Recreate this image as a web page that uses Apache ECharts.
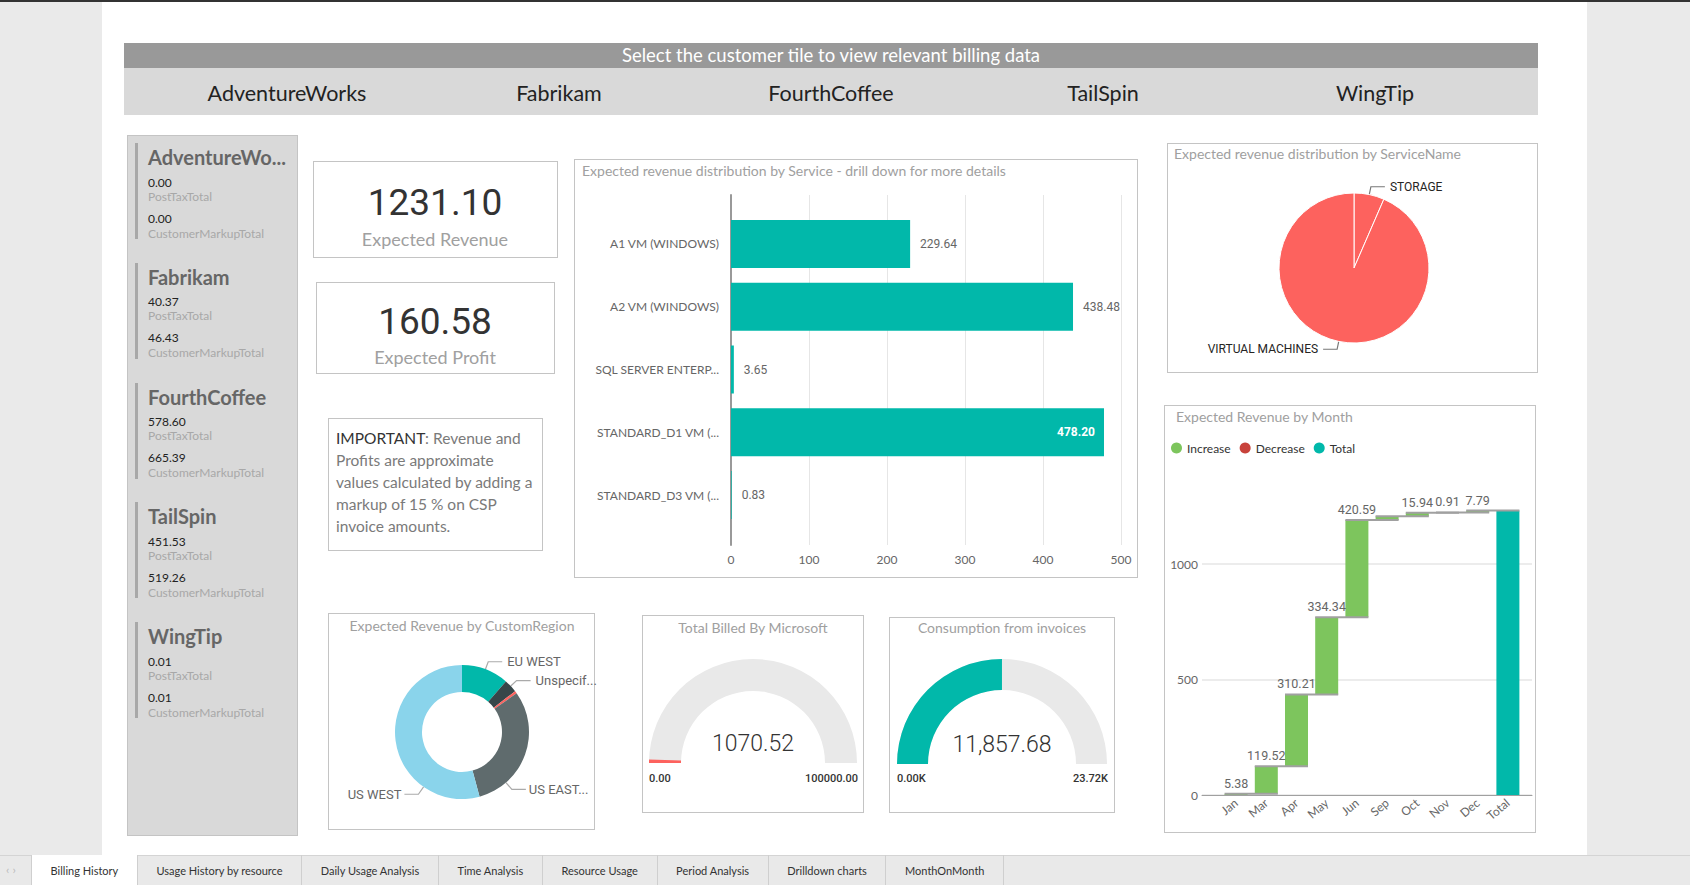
<!DOCTYPE html>
<html><head><meta charset="utf-8">
<script src="https://cdn.jsdelivr.net/npm/echarts@6/dist/echarts.min.js"></script>
<style>
html,body{margin:0;padding:0;width:1690px;height:885px;overflow:hidden;background:#eaeaea;font-family:Lato,'Noto Sans',sans-serif;}
.a{position:absolute;box-sizing:border-box;}
.t{position:absolute;white-space:nowrap;}
.box{position:absolute;box-sizing:border-box;border:1px solid #c4c4c4;background:#fff;}
#chart{position:absolute;left:0;top:0;width:1690px;height:885px;}
</style>
</head><body>
<div class="a" style="left:0;top:0;width:1690px;height:2px;background:#333"></div>
<div class="a" style="left:102px;top:2px;width:1485px;height:853px;background:#fff"></div>
<div id="ui"></div>
<div id="chart"></div>
<div id="ui2"></div>
<script>
// ---------- DATA ----------
const headerText = 'Select the customer tile to view relevant billing data';
const customers = ['AdventureWorks', 'Fabrikam', 'FourthCoffee', 'TailSpin', 'WingTip'];
const cardTitles = ['AdventureWo...', 'Fabrikam', 'FourthCoffee', 'TailSpin', 'WingTip'];
const postTaxTotal = [0.00, 40.37, 578.60, 451.53, 0.01];
const customerMarkupTotal = [0.00, 46.43, 665.39, 519.26, 0.01];
const expectedRevenue = 1231.10;
const expectedProfit = 160.58;
const noteLines = ['Revenue and', 'Profits are approximate', 'values calculated by adding a', 'markup of 15 % on CSP', 'invoice amounts.'];
const services = ['A1 VM (WINDOWS)', 'A2 VM (WINDOWS)', 'SQL SERVER ENTERP...', 'STANDARD_D1 VM (...', 'STANDARD_D3 VM (...'];
const serviceRevenue = [229.64, 438.48, 3.65, 478.20, 0.83];
const serviceTicks = [0, 500, 100];           // min, max, interval
const serviceNames = ['STORAGE', 'VIRTUAL MACHINES'];
const serviceNameRevenue = [80.30, 1150.80];
const regions = ['EU WEST', 'Unspecif...', 'US CENTRAL', 'US EAST...', 'US WEST'];
const regionRevenue = [140.0, 39.4, 7.4, 376.7, 667.6];
const months = ['Jan', 'Mar', 'Apr', 'May', 'Jun', 'Sep', 'Oct', 'Nov', 'Dec', 'Total'];
const monthRevenue = [5.38, 119.52, 310.21, 334.34, 420.59, 16.42, 15.94, 0.91, 7.79];
const monthHiddenLabels = ['Sep'];
const monthTicks = [0, 1400, 500];            // min, max, interval
const billedByMicrosoft = 1070.52, billedMin = 0, billedMax = 100000;
const consumption = 11857.68, consumptionMin = 0, consumptionMax = 23720;
const tabs = ['Billing History', 'Usage History by resource', 'Daily Usage Analysis', 'Time Analysis', 'Resource Usage', 'Period Analysis', 'Drilldown charts', 'MonthOnMonth'];

// ---------- UI HELPERS ----------
const ui = document.getElementById('ui');
const ui2 = document.getElementById('ui2');
function rect(x, y, w, h, style, parent) {
  const d = document.createElement('div'); d.className = 'a';
  d.style.cssText = `left:${x}px;top:${y}px;width:${w}px;height:${h}px;` + (style || '');
  (parent || ui).appendChild(d); return d;
}
function txt(text, x, cy, size, color, align, extra, parent) {
  const d = document.createElement('div'); d.className = 't';
  const lh = Math.round(size * 1.4);
  let left = x, w = '';
  if (align === 'center') { left = x - 600; w = 'width:1200px;text-align:center;'; }
  if (align === 'right') { left = x - 1200; w = 'width:1200px;text-align:right;'; }
  d.style.cssText = `left:${left}px;top:${cy - lh / 2}px;line-height:${lh}px;font-size:${size}px;color:${color};${w}` + (extra || '');
  d.textContent = text; (parent || ui).appendChild(d); return d;
}
const f2 = v => v.toFixed(2);

// header
rect(124, 43, 1414, 25, 'background:#999');
txt(headerText, 831, 55, 18.5, '#fff', 'center');
rect(124, 68, 1414, 47, 'background:#d9d9d9');
customers.forEach((c, i) => txt(c, 287 + 272 * i, 93, 21.5, '#222', 'center'));

// left panel
rect(127, 135, 171, 701, 'background:#d9d9d9;border:1px solid #c4c4c4');
cardTitles.forEach((t, i) => {
  const T = 143 + 119.75 * i;
  rect(135, T, 3, 96, 'background:#a8a8a8');
  txt(t, 148, T + 14, 20, '#666', 'left', 'font-weight:700;');
  txt(f2(postTaxTotal[i]), 148, T + 39, 12, '#222', 'left');
  txt('PostTaxTotal', 148, T + 53, 12, '#a8a8a8', 'left');
  txt(f2(customerMarkupTotal[i]), 148, T + 75, 12, '#222', 'left');
  txt('CustomerMarkupTotal', 148, T + 90, 12, '#a8a8a8', 'left');
});

// KPI cards
rect(313, 161, 245, 97, '', ui).className = 'box';
txt(f2(expectedRevenue), 435, 203, 37, '#333', 'center', 'font-family:Roboto;');
txt('Expected Revenue', 435, 239, 18, '#a0a0a0', 'center');
rect(316, 282, 239, 92, '', ui).className = 'box';
txt(f2(expectedProfit), 435, 322, 37, '#333', 'center', 'font-family:Roboto;');
txt('Expected Profit', 435, 357, 18, '#a0a0a0', 'center');
rect(328, 418, 215, 133, '', ui).className = 'box';
const impWord = txt('IMPORTANT', 336, 438, 15.5, '#333', 'left');
txt(':', 336 + impWord.offsetWidth, 438, 15.5, '#7a7a7a', 'left');
noteLines.forEach((l, i) => {
  if (i === 0) txt(l, 336 + impWord.offsetWidth + 8, 438, 15.5, '#7a7a7a', 'left');
  else txt(l, 336, 438 + 22 * i, 15.5, '#7a7a7a', 'left');
});

// chart boxes
const boxes = [
  [574, 159, 564, 419], [1167, 143, 371, 230], [1164, 405, 372, 428],
  [328, 613, 267, 217], [642, 615, 222, 198], [889, 617, 226, 196]
];
boxes.forEach(b => { rect(b[0], b[1], b[2], b[3]).className = 'box'; });
txt('Expected revenue distribution by Service - drill down for more details', 582, 171, 14, '#a0a0a0', 'left');
txt('Expected revenue distribution by ServiceName', 1174, 154, 14, '#a0a0a0', 'left');
txt('Expected Revenue by Month', 1176, 417, 14, '#a0a0a0', 'left');
txt('Expected Revenue by CustomRegion', 462, 626, 14, '#a0a0a0', 'center');
txt('Total Billed By Microsoft', 753, 628, 14, '#a0a0a0', 'center');
txt('Consumption from invoices', 1002, 628, 14, '#a0a0a0', 'center');
// gauge min/max labels
txt(f2(billedMin), 649, 778, 11, '#333', 'left', 'font-family:Roboto;font-weight:500;', ui2);
txt(f2(billedMax), 858, 778, 11, '#333', 'right', 'font-family:Roboto;font-weight:500;', ui2);
txt((consumptionMin / 1000).toFixed(2) + 'K', 897, 778, 11, '#333', 'left', 'font-family:Roboto;font-weight:500;', ui2);
txt((consumptionMax / 1000).toFixed(2) + 'K', 1108, 778, 11, '#333', 'right', 'font-family:Roboto;font-weight:500;', ui2);

// tab bar
rect(0, 855, 1690, 30, 'background:#e9e9e9;border-top:1px solid #d4d4d4');
txt('\u2039 \u203A', 6, 869, 12, '#bbb', 'left');
const tabBar = document.createElement('div'); tabBar.className = 'a';
tabBar.style.cssText = 'left:31px;top:855px;height:30px;display:flex;';
tabs.forEach((t, i) => {
  const d = document.createElement('div');
  d.style.cssText = 'height:30px;line-height:32px;padding:0 18.6px;font-size:11px;color:#333;border-right:1px solid #cfcfcf;' + (i === 0 ? 'background:#fff;border-left:1px solid #cfcfcf;' : '');
  d.textContent = t; tabBar.appendChild(d);
});
ui.appendChild(tabBar);

// ---------- CHARTS ----------
const chart = echarts.init(document.getElementById('chart'), null, {renderer: 'svg', width: 1690, height: 885});
const cumEnd = []; let acc = 0;
monthRevenue.forEach(v => { acc += v; cumEnd.push(+acc.toFixed(2)); });
const monthTotal = acc;
const baseData = months.map((m, i) => i < monthRevenue.length ? (i === 0 ? 0 : cumEnd[i - 1]) : '-');
const incData = months.map((m, i) => i < monthRevenue.length ? {
  value: monthRevenue[i], label: {show: monthHiddenLabels.indexOf(m) < 0}
} : '-');
const totData = months.map((m, i) => i < monthRevenue.length ? '-' : +monthTotal.toFixed(2));
const connData = cumEnd.map((v, i) => [i, v]);
const HALF_BAR = 11.5;

// donut layout (style constants)
const DONUT_C = [462, 732], DONUT_R = [40, 67];
const donutLabelAngles = {3: 139, 4: 215};   // leader anchor angles (deg, clockwise from top)
function donutLabelLayout(p) {
  const a = donutLabelAngles[p.dataIndex];
  if (a === undefined) return {};
  const rad = a * Math.PI / 180, s = Math.sin(rad), c = -Math.cos(rad);
  const p0 = [DONUT_C[0] + DONUT_R[1] * s, DONUT_C[1] + DONUT_R[1] * c];
  const p1 = [DONUT_C[0] + (DONUT_R[1] + 9) * s, DONUT_C[1] + (DONUT_R[1] + 9) * c];
  const dir = s >= 0 ? 1 : -1;
  const p2 = [p1[0] + dir * 14, p1[1]];
  return {x: p2[0] + dir * 3, y: p2[1], align: dir > 0 ? 'left' : 'right', verticalAlign: 'middle',
    labelLinePoints: [p0, p1, p2]};
}

const axisGray = '#666';
const option = {
  animation: false,
  backgroundColor: 'transparent',
  textStyle: {fontFamily: 'Lato'},
  grid: [
    {left: 731, top: 195, width: 390, height: 350},
    {left: 731, top: 212.6, width: 390, height: 313.8},
    {left: 1202, top: 471.6, width: 330, height: 323.4},
    {left: 1221, top: 471.6, width: 302, height: 323.4}
  ],
  legend: {
    data: ['Increase', 'Decrease', 'Total'], left: 1171, top: 442, icon: 'circle',
    itemWidth: 11, itemHeight: 11, itemGap: 9, padding: 0,
    textStyle: {fontSize: 12, color: '#333', fontFamily: 'Lato'}
  },
  xAxis: [
    {gridIndex: 0, type: 'value', min: serviceTicks[0], max: serviceTicks[1], interval: serviceTicks[2],
      axisLine: {show: false}, axisTick: {show: false},
      splitLine: {lineStyle: {color: '#e6e6e6'}},
      axisLabel: {color: axisGray, fontSize: 12, margin: 8, fontFamily: 'Lato'}},
    {gridIndex: 1, type: 'value', min: serviceTicks[0], max: serviceTicks[1], show: false},
    {gridIndex: 2, type: 'value', min: 0, max: 1, axisLine: {show: true, lineStyle: {color: '#a0a0a0'}},
      axisTick: {show: false}, axisLabel: {show: false}, splitLine: {show: false}},
    {gridIndex: 3, type: 'category', data: months, axisLine: {show: false}, axisTick: {show: false},
      axisLabel: {rotate: 40, color: axisGray, fontSize: 12, margin: 6, interval: 0, fontFamily: 'Lato'}}
  ],
  yAxis: [
    {gridIndex: 0, type: 'value', min: 0, max: 1, axisLine: {show: true, lineStyle: {color: '#999', width: 2}},
      axisTick: {show: false}, axisLabel: {show: false}, splitLine: {show: false}},
    {gridIndex: 1, type: 'category', data: services, inverse: true, axisLine: {show: false}, axisTick: {show: false},
      axisLabel: {color: axisGray, fontSize: 12, margin: 12, fontFamily: 'Lato'}},
    {gridIndex: 2, type: 'value', min: monthTicks[0], max: monthTicks[1], interval: monthTicks[2],
      axisLine: {show: false}, axisTick: {show: false},
      splitLine: {showMaxLine: false, lineStyle: {color: '#e6e6e6', width: 1.5}},
      axisLabel: {showMaxLabel: false, color: axisGray, fontSize: 12, margin: 4, fontFamily: 'Lato',
        formatter: v => String(v)}},
    {gridIndex: 3, type: 'value', min: monthTicks[0], max: monthTicks[1], show: false}
  ],
  series: [
    {type: 'bar', xAxisIndex: 1, yAxisIndex: 1, barWidth: 48,
      itemStyle: {color: '#01b8aa'},
      data: serviceRevenue.map(v => {
        const inside = v > serviceTicks[1] * 0.92;
        return {value: v, label: inside ? {position: 'insideRight', color: '#fff', fontWeight: 'bold', distance: 9} : {}};
      }),
      label: {show: true, position: 'right', distance: 10, color: '#666', fontSize: 12, fontFamily: 'Roboto', formatter: p => f2(p.value)}},
    {type: 'pie', center: [1354, 268], radius: 75, startAngle: 90, clockwise: true,
      data: serviceNames.map((n, i) => ({name: n, value: serviceNameRevenue[i]})),
      itemStyle: {color: '#fd625e', borderColor: '#fff', borderWidth: 1},
      label: {color: '#252423', fontSize: 12, fontFamily: 'Roboto'},
      labelLine: {length: 8, length2: 14, lineStyle: {color: '#777', width: 1.2}}},
    {type: 'pie', center: DONUT_C, radius: DONUT_R, startAngle: 90, clockwise: true,
      data: regions.map((n, i) => ({name: n, value: regionRevenue[i],
        itemStyle: {color: ['#01b8aa', '#374649', '#fd625e', '#5f6b6d', '#8ad4eb'][i]},
        label: {show: i !== 2}, labelLine: {show: i !== 2}})),
      label: {color: '#666', fontSize: 13, fontFamily: 'Roboto'},
      labelLine: {length: 8, length2: 14, lineStyle: {color: '#aaa', width: 1.2}},
      labelLayout: donutLabelLayout},
    {type: 'gauge', center: [753, 763], radius: 104, startAngle: 180, endAngle: 0,
      min: billedMin, max: billedMax,
      axisLine: {lineStyle: {width: 32, color: [[1, '#e9e9e9']]}},
      progress: {show: true, width: 32, itemStyle: {color: '#fd625e'}},
      pointer: {show: false}, anchor: {show: false}, axisTick: {show: false}, splitLine: {show: false},
      axisLabel: {show: false}, title: {show: false},
      detail: {offsetCenter: [0, -20], fontSize: 23, fontWeight: 300, color: '#333', fontFamily: 'Roboto',
        formatter: v => f2(v)},
      data: [{value: billedByMicrosoft}]},
    {type: 'gauge', center: [1002, 764], radius: 105, startAngle: 180, endAngle: 0,
      min: consumptionMin, max: consumptionMax,
      axisLine: {lineStyle: {width: 31, color: [[1, '#e9e9e9']]}},
      progress: {show: true, width: 31, itemStyle: {color: '#01b8aa'}},
      pointer: {show: false}, anchor: {show: false}, axisTick: {show: false}, splitLine: {show: false},
      axisLabel: {show: false}, title: {show: false},
      detail: {offsetCenter: [0, -20], fontSize: 23, fontWeight: 300, color: '#333', fontFamily: 'Roboto',
        formatter: v => v.toLocaleString('en-US', {minimumFractionDigits: 2, maximumFractionDigits: 2})},
      data: [{value: consumption}]},
    {type: 'bar', name: 'base', xAxisIndex: 3, yAxisIndex: 3, stack: 'wf', barWidth: 23, silent: true,
      itemStyle: {color: 'transparent'}, data: baseData},
    {type: 'bar', name: 'Increase', xAxisIndex: 3, yAxisIndex: 3, stack: 'wf', barWidth: 23,
      itemStyle: {color: '#7dc55d'}, data: incData,
      label: {show: true, position: 'top', distance: 4, color: '#666', fontSize: 12.5, fontFamily: 'Roboto',
        formatter: p => f2(p.value)}},
    {type: 'bar', name: 'Decrease', xAxisIndex: 3, yAxisIndex: 3, stack: 'wf', barWidth: 23,
      itemStyle: {color: '#c8423b'}, data: []},
    {type: 'bar', name: 'Total', xAxisIndex: 3, yAxisIndex: 3, stack: 'wf', barWidth: 23,
      itemStyle: {color: '#01b8aa'}, data: totData},
    {type: 'custom', name: 'connectors', xAxisIndex: 3, yAxisIndex: 3, silent: true, z: 5,
      data: connData,
      renderItem: (params, api) => {
        const i = api.value(0), v = api.value(1);
        const p0 = api.coord([i, v]), p1 = api.coord([i + 1, v]);
        return {type: 'line', shape: {x1: p0[0] - HALF_BAR, y1: p0[1], x2: p1[0] + HALF_BAR, y2: p1[1]},
          style: {stroke: '#a0a0a0', lineWidth: 2}};
      }}
  ]
};
chart.setOption(option);
</script>
</body></html>
